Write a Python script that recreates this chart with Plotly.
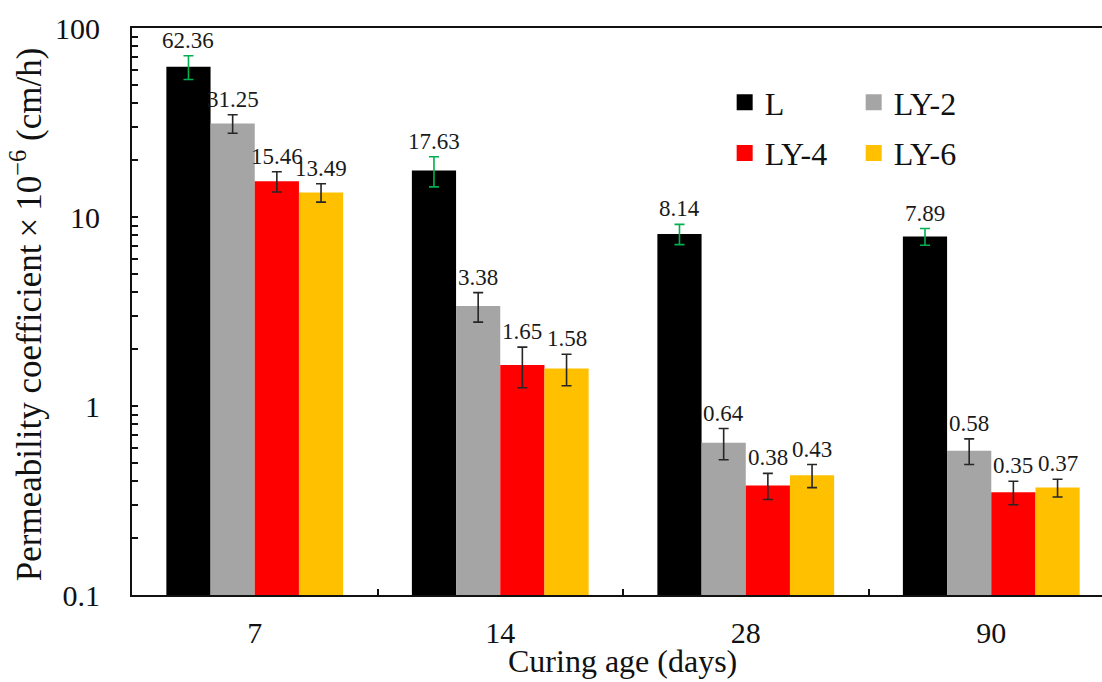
import plotly.graph_objects as go
import math

categories = ["7", "14", "28", "90"]
series_names = ["L", "LY-2", "LY-4", "LY-6"]
values = {
    "L":    [62.36, 17.63, 8.14, 7.89],
    "LY-2": [31.25, 3.38, 0.64, 0.58],
    "LY-4": [15.46, 1.65, 0.38, 0.35],
    "LY-6": [13.49, 1.58, 0.43, 0.37],
}
errors = {
    "L":    [9.0, 3.2, 1.0, 0.8],
    "LY-2": [3.5, 0.6, 0.12, 0.09],
    "LY-4": [1.9, 0.4, 0.06, 0.05],
    "LY-6": [1.5, 0.3, 0.06, 0.04],
}
colors = {"L": "#000000", "LY-2": "#A5A5A5", "LY-4": "#FF0000", "LY-6": "#FFC000"}
err_colors = {"L": "#00B050", "LY-2": "#262626", "LY-4": "#262626", "LY-6": "#262626"}
legend_of = {"L": "legend", "LY-4": "legend", "LY-2": "legend2", "LY-6": "legend2"}

FONT = "'Liberation Serif', 'Times New Roman', Tinos, serif"
bargap = 0.28
n = len(series_names)
bw = (1 - bargap) / n

fig = go.Figure()
for k, s in enumerate(series_names):
    fig.add_trace(go.Bar(
        name=s, x=categories, y=values[s],
        marker=dict(color=colors[s], line=dict(width=0)),
        error_y=dict(type="data", array=errors[s], visible=True,
                     color=err_colors[s], thickness=1.6, width=5),
        showlegend=False,
    ))

# legend entries (square markers)
for s in ["L", "LY-4", "LY-2", "LY-6"]:
    fig.add_trace(go.Scatter(
        x=[None], y=[None], mode="markers", name=s,
        marker=dict(symbol="square", size=18, color=colors[s]),
        legend=legend_of[s], legendgroup=s, showlegend=True,
    ))

# data labels above error bars
for k, s in enumerate(series_names):
    off = (-(n - 1) / 2 + k) * bw
    for i, c in enumerate(categories):
        top = values[s][i] + errors[s][i]
        fig.add_annotation(
            x=i + off, y=math.log10(top), xref="x", yref="y",
            text=f"{values[s][i]:.2f}", showarrow=False,
            yanchor="bottom", xanchor="center", yshift=1,
            font=dict(family=FONT, size=23, color="#1a1a1a"),
        )

fig.add_annotation(
    text="Curing age (days)", xref="paper", yref="paper",
    x=0.506, y=-0.117, xanchor="center", yanchor="middle", showarrow=False,
    font=dict(family=FONT, size=32, color="#111"),
)
fig.add_annotation(
    text="Permeability coefficient\u2009×\u200910<sup>\u22126</sup> (cm/h)",
    xref="paper", yref="paper", x=-0.108, y=0.494, textangle=-90,
    xanchor="center", yanchor="middle", showarrow=False,
    font=dict(family=FONT, size=35, color="#111"),
)

legend_common = dict(
    font=dict(family=FONT, size=32, color="#111"),
    bgcolor="rgba(0,0,0,0)", borderwidth=0, orientation="v",
    tracegroupgap=6, itemsizing="trace", xanchor="left", yanchor="top",
)
fig.update_layout(
    width=1102, height=682,
    margin=dict(l=132, r=0, t=28, b=87),
    paper_bgcolor="white", plot_bgcolor="white",
    barmode="group", bargap=bargap, bargroupgap=0,
    font=dict(family=FONT, size=30, color="#111"),
    legend=dict(x=0.611, y=0.917, **legend_common),
    legend2=dict(x=0.744, y=0.917, **legend_common),
)
fig.update_xaxes(
    type="category", range=[-0.5, 3.451],
    showline=True, linecolor="#111", linewidth=2, mirror=True,
    ticks="inside", tickson="boundaries", ticklen=6, tickwidth=1.5, tickcolor="#111",
    ticklabelstandoff=10, showgrid=False, zeroline=False,
    tickfont=dict(family=FONT, size=30, color="#111"),
)
fig.update_yaxes(
    type="log", range=[-1, 2], dtick=1,
    tickvals=[0.1, 1, 10, 100], ticktext=["0.1", "1", "10", "100"],
    showline=True, linecolor="#111", linewidth=2,
    ticks="inside", ticklen=6, tickwidth=1.5, tickcolor="#111",
    minor=dict(ticks="inside", ticklen=6, tickwidth=1.5, tickcolor="#111",
               dtick="D1", showgrid=False),
    ticklabelstandoff=24, showgrid=False, zeroline=False,
    tickfont=dict(family=FONT, size=30, color="#111"),
)
fig.write_html("out.html")
